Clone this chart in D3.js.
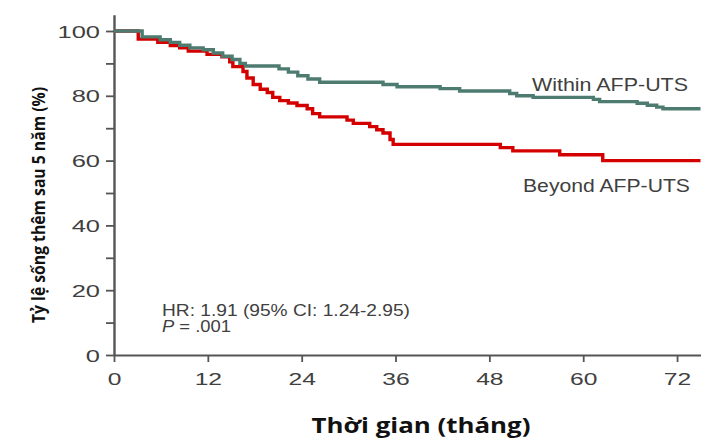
<!DOCTYPE html>
<html>
<head>
<meta charset="utf-8">
<script src="https://cdn.jsdelivr.net/npm/d3@7"></script>
<style>
  html, body { margin: 0; padding: 0; background: #fff; }
  svg { display: block; }
</style>
</head>
<body>
<svg id="chart" width="701" height="441"></svg>
<script>
// ---- data ----
const xTicks = [0, 12, 24, 36, 48, 60, 72];
const yTicks = [0, 10, 20, 30, 40, 50, 60, 70, 80, 90, 100];
const yLabels = [0, 20, 40, 60, 80, 100];

const monthsWithin = [0, 3.6, 5.9, 7.2, 8.4, 9.7, 11.4, 12.7, 13.9, 15.1, 16.1, 16.8, 21.1, 22.3, 23.5, 24.8, 26.3, 34.4, 36.2, 41.7, 44.2, 50.6, 51.5, 53.6, 61.3, 62.1, 66.9, 68.2, 69.4, 70.2, 75];
const survivalWithin = [100, 98.2, 97.3, 96.5, 95.6, 94.8, 94.2, 93.2, 92.2, 91.2, 90, 89.2, 88.3, 87.3, 86.2, 85.2, 84.2, 83.5, 82.8, 82.2, 81.5, 80.7, 80, 79.5, 78.9, 78.2, 77.7, 77.1, 76.5, 76, 76];

const monthsBeyond = [0, 3.1, 5.6, 7.2, 8.4, 9.5, 11.9, 13.8, 14.8, 15.2, 16.5, 17.0, 17.8, 18.7, 19.6, 20.3, 21.2, 22.3, 23.4, 24.7, 25.4, 26.3, 29.8, 30.6, 32.7, 33.6, 34.4, 35.3, 35.7, 49.4, 51.0, 57.0, 62.5, 75];
const survivalBeyond = [100, 97.5, 96.5, 95.5, 94.8, 93.8, 92.8, 92, 90.5, 89, 87.5, 85.5, 83.5, 82, 81, 79.5, 78.5, 77.8, 77, 76, 74.5, 73.5, 72.5, 71.5, 70.5, 69.5, 68.5, 66.5, 65, 64, 63, 61.8, 60, 60];

const seriesNames = ["Within AFP-UTS", "Beyond AFP-UTS"];
const yTitle = "Tỷ lệ sống thêm sau 5 năm (%)";
const xTitle = "Thời gian (tháng)";
const statLine1 = "HR: 1.91 (95% CI: 1.24-2.95)";
const statLine2 = " = .001";

// ---- drawing ----
const svg = d3.select("#chart");
const x = d3.scaleLinear().domain([0, 75]).range([114, 700.5]);
const y = d3.scaleLinear().domain([0, 105]).range([355, 14.8]);

const axisColor = "#555";
const labelColor = "#404040";
const labelFont = "Liberation Sans, Arial, sans-serif";

// y axis
const gy = svg.append("g").attr("transform", "translate(114,0)")
  .call(d3.axisLeft(y).tickValues(yTicks).tickSize(8).tickSizeOuter(0)
    .tickFormat(d => yLabels.includes(d) ? d : ""));
gy.select(".domain").attr("stroke", axisColor).attr("stroke-width", 2.4);
gy.selectAll(".tick line").attr("stroke", axisColor).attr("stroke-width", 1.8);
gy.selectAll(".tick text")
  .attr("fill", labelColor)
  .attr("font-family", labelFont)
  .attr("font-size", 17)
  .attr("x", -14 / 1.5)
  .attr("dy", "0.36em")
  .attr("transform", "scale(1.5,1)");

// x axis
const gx = svg.append("g").attr("transform", "translate(0,355)")
  .call(d3.axisBottom(x).tickValues(xTicks).tickSize(7).tickSizeOuter(0));
gx.select(".domain").attr("stroke", axisColor).attr("stroke-width", 2);
gx.selectAll(".tick line").attr("stroke", axisColor).attr("stroke-width", 1.8);
gx.selectAll(".tick text")
  .attr("fill", labelColor)
  .attr("font-family", labelFont)
  .attr("font-size", 17)
  .attr("y", 24)
  .attr("dy", "0.36em")
  .attr("transform", "scale(1.45,1)");

// curves
const line = d3.line().curve(d3.curveStepAfter).x(d => x(d[0])).y(d => y(d[1]));
const beyond = monthsBeyond.map((m, i) => [m, survivalBeyond[i]]);
const within = monthsWithin.map((m, i) => [m, survivalWithin[i]]);

svg.append("path").datum(beyond)
  .attr("d", line).attr("fill", "none")
  .attr("stroke", "#d40000").attr("stroke-width", 3.4);
svg.append("path").datum(within)
  .attr("d", line).attr("fill", "none")
  .attr("stroke", "#4d7b70").attr("stroke-width", 3.4);

// series labels
svg.append("text").text(seriesNames[0])
  .attr("x", 532).attr("y", 91)
  .attr("font-family", labelFont).attr("font-size", 17.5).attr("fill", labelColor)
  .attr("textLength", 156).attr("lengthAdjust", "spacingAndGlyphs");
svg.append("text").text(seriesNames[1])
  .attr("x", 523).attr("y", 192)
  .attr("font-family", labelFont).attr("font-size", 17.5).attr("fill", labelColor)
  .attr("textLength", 167).attr("lengthAdjust", "spacingAndGlyphs");

// statistics
svg.append("text").text(statLine1)
  .attr("x", 162).attr("y", 316)
  .attr("font-family", labelFont).attr("font-size", 16).attr("fill", labelColor)
  .attr("textLength", 248).attr("lengthAdjust", "spacingAndGlyphs");
const t2 = svg.append("text")
  .attr("x", 162).attr("y", 332)
  .attr("font-family", labelFont).attr("font-size", 16).attr("fill", labelColor)
  .attr("textLength", 69).attr("lengthAdjust", "spacingAndGlyphs");
t2.append("tspan").attr("font-style", "italic").text("P");
t2.append("tspan").text(statLine2);

// axis titles
svg.append("text").text(xTitle)
  .attr("x", 421).attr("y", 433)
  .attr("text-anchor", "middle")
  .attr("font-family", "Open Sans, sans-serif").attr("font-weight", 700)
  .attr("font-size", 21).attr("fill", "#111")
  .attr("textLength", 219).attr("lengthAdjust", "spacingAndGlyphs");
svg.append("text").text(yTitle)
  .attr("transform", "translate(45,205) rotate(-90)")
  .attr("text-anchor", "middle")
  .attr("font-family", "Open Sans, sans-serif").attr("font-weight", 700)
  .attr("font-size", 17.5).attr("fill", "#111")
  .attr("textLength", 236).attr("lengthAdjust", "spacingAndGlyphs");
</script>
</body>
</html>
